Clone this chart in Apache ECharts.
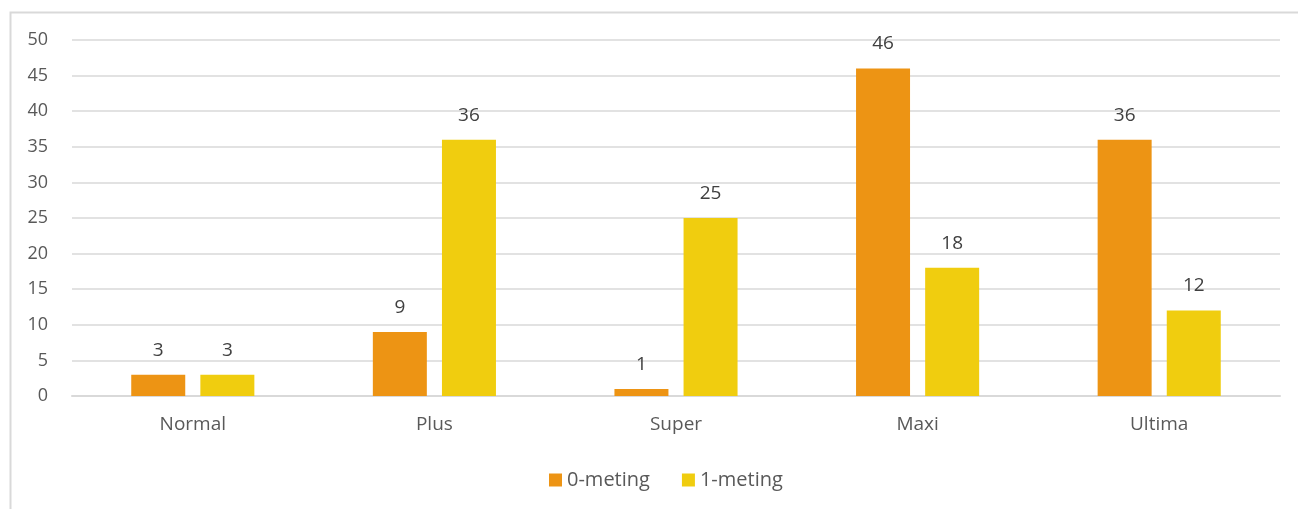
<!DOCTYPE html>
<html>
<head>
<meta charset="utf-8">
<script src="https://cdn.jsdelivr.net/npm/echarts@6/dist/echarts.min.js"></script>
<style>
  html, body { margin: 0; padding: 0; background: #fff; }
  #chart { width: 1298px; height: 509px; }
</style>
</head>
<body>
<div id="chart"></div>
<script>
var categories = ['Normal', 'Plus', 'Super', 'Maxi', 'Ultima'];
var meting0 = [3, 9, 1, 46, 36];
var meting1 = [3, 36, 25, 18, 12];
var seriesNames = ['0-meting', '1-meting'];

var myChart = echarts.init(document.getElementById('chart'), null, { renderer: 'canvas' });
var font = '"Open Sans", sans-serif';

var option = {
    animation: false,
    textStyle: { fontFamily: font },
    graphic: [{
        type: 'rect',
        left: 8,
        top: 10,
        shape: { width: 1310, height: 520 },
        style: { fill: 'none', stroke: '#d9d9d9', lineWidth: 2 },
        z: -1
    }],
    legend: {
        bottom: 14,
        left: 544,
        itemWidth: 13,
        itemHeight: 13,
        itemGap: 32,
        icon: 'rect',
        textStyle: { color: '#595959', fontSize: 20, fontFamily: font },
        data: seriesNames
    },
    grid: {
        top: 40,
        left: 72,
        right: 18,
        bottom: 113
    },
    xAxis: {
        type: 'category',
        data: categories,
        axisTick: { show: false },
        axisLine: { lineStyle: { color: '#d9d9d9', width: 2 } },
        axisLabel: { color: '#595959', fontSize: 19, margin: 19, fontFamily: font }
    },
    yAxis: {
        type: 'value',
        min: 0,
        max: 50,
        interval: 5,
        axisLine: { show: false },
        axisTick: { show: false },
        splitLine: { lineStyle: { color: '#d9d9d9', width: 1.5 } },
        axisLabel: { color: '#595959', fontSize: 18, margin: 24, fontFamily: font }
    },
    series: [
        {
            name: seriesNames[0],
            type: 'bar',
            barWidth: 54,
            barGap: '28%',
            itemStyle: { color: '#ED9414' },
            label: { show: true, position: 'top', distance: 15, color: '#404040', fontSize: 19, fontFamily: font },
            data: meting0
        },
        {
            name: seriesNames[1],
            type: 'bar',
            barWidth: 54,
            itemStyle: { color: '#F0CD0F' },
            label: { show: true, position: 'top', distance: 15, color: '#404040', fontSize: 19, fontFamily: font },
            data: meting1
        }
    ]
};
myChart.setOption(option);
</script>
</body>
</html>
